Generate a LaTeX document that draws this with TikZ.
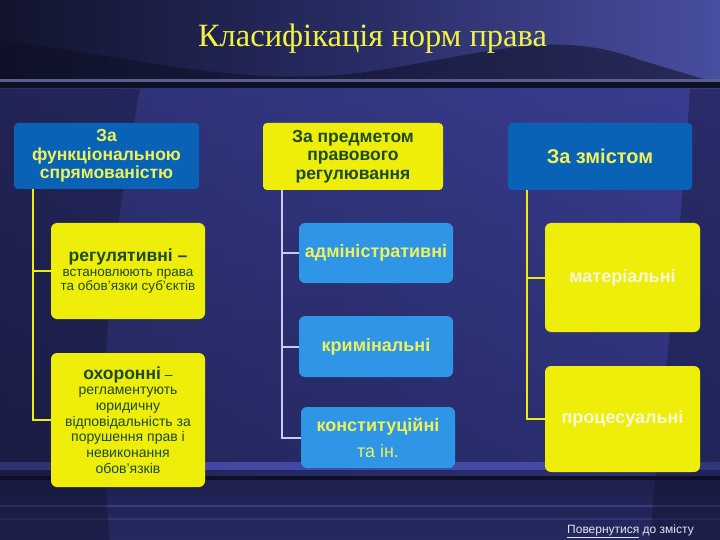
\documentclass[tikz,border=0pt]{standalone}
\usepackage{fontspec}
\setmainfont{Liberation Sans}
\newfontfamily\titlefont{Liberation Serif}
\usetikzlibrary{calc}
\definecolor{hdrblue}{HTML}{0A62B6}
\definecolor{boxyel}{HTML}{EEEE0A}
\definecolor{kidblue}{HTML}{2F95E6}
\definecolor{txtyel}{HTML}{EEF25A}
\definecolor{txtgrn}{HTML}{1E4A22}
\definecolor{txtwht}{HTML}{F6F6D8}
\definecolor{linlav}{HTML}{C8CAF0}
\definecolor{titleyel}{HTML}{F2F240}
\definecolor{bgbase}{RGB}{42,45,104}
\definecolor{bgdark}{RGB}{18,20,46}
\definecolor{bglight}{RGB}{72,78,160}
\definecolor{bgmid}{RGB}{40,44,100}
\definecolor{bgshadow}{RGB}{14,15,36}
\definecolor{bgline}{RGB}{90,96,140}
\definecolor{bgblack}{RGB}{14,16,40}
\definecolor{mainl}{RGB}{34,37,88}
\definecolor{mainr}{RGB}{58,63,150}
\definecolor{mainm}{RGB}{46,50,120}
\definecolor{maindim}{RGB}{32,35,84}
\definecolor{maintop}{RGB}{56,60,140}
\definecolor{band}{RGB}{80,86,190}
\definecolor{bottop}{RGB}{30,33,78}
\definecolor{botbot}{RGB}{38,41,96}
\definecolor{botline}{RGB}{62,66,140}
\definecolor{botline2}{RGB}{55,58,125}
\definecolor{linktxt}{RGB}{228,228,240}
\begin{document}
\begin{tikzpicture}[x=1pt,y=-1pt,
  box/.style={rectangle,rounded corners=6pt,align=center,inner sep=2pt},
  hdrb/.style={box,fill=hdrblue,text=txtyel,font=\fontsize{17.5}{18.5}\selectfont\bfseries,rounded corners=4pt},
  hdry/.style={box,fill=boxyel,text=txtgrn,font=\fontsize{17.5}{18.5}\selectfont\bfseries,rounded corners=4pt},
  kidy/.style={box,fill=boxyel,text=txtgrn},
  kidb/.style={box,fill=kidblue,text=txtyel,font=\fontsize{18}{20}\selectfont\bfseries},
  kidw/.style={box,fill=boxyel,text=txtwht,font=\fontsize{18}{20}\selectfont\bfseries},
  conny/.style={draw=boxyel,line width=2pt},
  connl/.style={draw=linlav,line width=2pt}]
\useasboundingbox (0,0) rectangle (720,540);
% ---------- background ----------
\fill[bgbase] (0,0) rectangle (720,540);
\shade[left color=bgdark,right color=bglight,middle color=bgmid] (0,0) rectangle (720,84);
\fill[bgshadow,opacity=0.55] (0,40) .. controls (150,60) and (250,90) .. (380,70) .. controls (500,50) and (560,30) .. (640,60) -- (720,84) -- (0,84) -- cycle;
\fill[bgline] (0,79) rectangle (720,82);
\fill[bgblack] (0,82) rectangle (720,89);
\shade[left color=mainl,right color=mainr,middle color=mainm] (0,89) rectangle (720,477);
\shade[top color=maintop,bottom color=maindim,opacity=0.5] (0,89) rectangle (720,477);
\fill[band,opacity=0.7] (0,462) rectangle (720,470);
\fill[bgblack] (0,476) rectangle (720,480);
\shade[top color=bottop,bottom color=botbot] (0,480) rectangle (720,540);
\fill[botline,opacity=0.8] (0,505) rectangle (720,507);
\fill[botline2,opacity=0.7] (0,518) rectangle (720,519.5);
\fill[bgshadow,opacity=0.35] (0,89) -- (140,89) .. controls (110,250) and (95,400) .. (110,540) -- (0,540) -- cycle;
\fill[bgshadow,opacity=0.35] (690,89) .. controls (680,250) and (660,420) .. (650,540) -- (720,540) -- (720,89) -- cycle;
% ---------- title ----------
\node[font=\titlefont\fontsize{32.5}{36}\selectfont,text=titleyel,anchor=base] (title) at (372.5,47) {Класифікація норм права};
% ---------- nodes ----------
\node[hdrb,minimum width=185pt,minimum height=66pt] (LH) at (106.5,156) {За\\функціональною\\спрямованістю};
\node[kidy,minimum width=154pt,minimum height=96pt,font=\fontsize{13.5}{14}\selectfont] (L1) at (128,271) {{\fontsize{17.5}{19}\selectfont\bfseries регулятивні –}\\[1pt]встановлюють права\\та обов'язки суб'єктів};
\node[kidy,minimum width=154pt,minimum height=134pt,font=\fontsize{14}{15.7}\selectfont] (L2) at (128,420) {{\fontsize{17.5}{19}\selectfont\bfseries охоронні} –\\регламентують\\юридичну\\відповідальність за\\порушення прав і\\невиконання\\обов'язків};
\node[hdry,minimum width=180pt,minimum height=67pt] (MH) at (353,156.5) {За предметом\\правового\\регулювання};
\node[kidb,minimum width=154pt,minimum height=60pt] (M1) at (376,253) {адміністративні};
\node[kidb,minimum width=154pt,minimum height=61pt] (M2) at (376,346.5) {кримінальні};
\node[kidb,minimum width=154pt,minimum height=61pt] (M3) at (378,437.5) {конституційні\\[6pt]\mdseries та ін.};
\node[hdrb,minimum width=184pt,minimum height=67pt,font=\fontsize{20}{22}\selectfont\bfseries] (RH) at (600,156.5) {За змістом};
\node[kidw,minimum width=155pt,minimum height=109pt] (R1) at (622.5,277.5) {матеріальні};
\node[kidw,minimum width=155pt,minimum height=106pt] (R2) at (622.5,419) {процесуальні};
% ---------- connectors ----------
\coordinate (lt) at ($(LH.south west)+(19,0)$);
\coordinate (mt) at ($(MH.south west)+(19,0)$);
\coordinate (rt) at ($(RH.south west)+(19,0)$);
\draw[conny] (lt) |- (L2.west);
\draw[conny] (lt |- L1.west) -- (L1.west);
\draw[connl] (mt) |- (M3.west);
\draw[connl] (mt |- M1.west) -- (M1.west);
\draw[connl] (mt |- M2.west) -- (M2.west);
\draw[conny] (rt) |- (R2.west);
\draw[conny] (rt |- R1.west) -- (R1.west);
% ---------- link ----------
\node[anchor=base east,font=\fontsize{12}{14}\selectfont,text=linktxt,inner sep=0pt] (link) at (694,533) {\underline{Повернутися} до змісту};
\end{tikzpicture}
\end{document}
